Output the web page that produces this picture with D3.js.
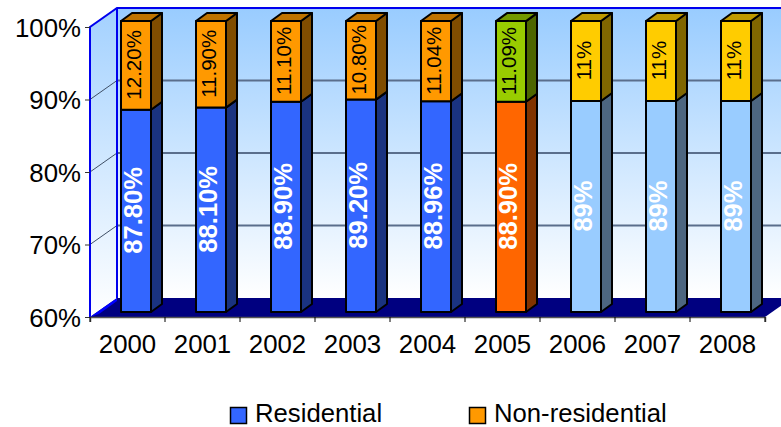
<!DOCTYPE html>
<html>
<head>
<meta charset="utf-8">
<script src="https://cdn.jsdelivr.net/npm/d3@7"></script>
<style>
html,body{margin:0;padding:0;background:#fff;}
svg{display:block;font-family:"Liberation Sans",Arial,sans-serif;}
</style>
</head>
<body>
<svg id="chart" width="781" height="427"></svg>
<script>
// Share of housing output by year, stacked to 100%
const years = ["2000","2001","2002","2003","2004","2005","2006","2007","2008"];
const residential = [87.8,88.1,88.9,89.2,88.96,88.9,89,89,89];
const nonResidential = [12.2,11.9,11.1,10.8,11.04,11.09,11,11,11];
const residentialLabels = ["87.80%","88.10%","88.90%","89.20%","88.96%","88.90%","89%","89%","89%"];
const nonResidentialLabels = ["12.20%","11.90%","11.10%","10.80%","11.04%","11.09%","11%","11%","11%"];
const yTicks = [60,70,80,90,100];
const residentialColors = ["#3366ff","#3366ff","#3366ff","#3366ff","#3366ff","#ff6600","#99ccff","#99ccff","#99ccff"];
const nonResidentialColors = ["#ff9900","#ff9900","#ff9900","#ff9900","#ff9900","#99cc00","#ffcc00","#ffcc00","#ffcc00"];
const legendNames = ["Residential","Non-residential"];
const legendColors = ["#3366ff","#ff9900"];

const svg = d3.select("#chart");

// Oblique projection: the plot box has a front plane and a back wall
const x = d3.scaleBand().domain(years).range([90,765]);
const y = d3.scaleLinear().domain([60,100]).range([317,27]);
const barY = d3.scaleLinear().domain([60,100]).range([312,21]);
const wallDx = 27, wallDy = -19;
const barInsetX = 8.5;
const barWidth = 30, barDepthX = 11, barDepthY = -8;
const plotRight = 781;

const defs = svg.append("defs");
const wallGrad = defs.append("linearGradient").attr("id","wall").attr("x1",0).attr("y1",0).attr("x2",0).attr("y2",1);
wallGrad.append("stop").attr("offset",0).attr("stop-color","#99ccff");
wallGrad.append("stop").attr("offset",1).attr("stop-color","#ffffff");
const sideGrad = defs.append("linearGradient").attr("id","side").attr("x1",0).attr("y1",0).attr("x2",0).attr("y2",1);
sideGrad.append("stop").attr("offset",0).attr("stop-color","#a3d1ff");
sideGrad.append("stop").attr("offset",1).attr("stop-color","#ffffff");

const x0 = x.range()[0], x1 = x.range()[1];
const yTop = y(100), yBase = y(60);
const poly = pts => pts.map(p => p.join(",")).join(" ");

// Side wall, back wall, floor
svg.append("polygon").attr("fill","url(#side)")
  .attr("points",poly([[x0,yTop],[x0+wallDx,yTop+wallDy],[x0+wallDx,yBase+wallDy],[x0,yBase]]));
svg.append("rect").attr("fill","url(#wall)")
  .attr("x",x0+wallDx).attr("y",yTop+wallDy).attr("width",plotRight-x0-wallDx).attr("height",yBase-yTop);
svg.append("polygon").attr("fill","#000080")
  .attr("points",poly([[x0,yBase],[x0+wallDx,yBase+wallDy],[x1+wallDx,yBase+wallDy],[x1,yBase]]));
svg.append("polygon").attr("fill","#0000ff")
  .attr("points",poly([[x0,yBase],[x0+wallDx,yBase+wallDy],[x0+wallDx,yBase+wallDy+3],[x0+9,yBase-3]]));

// Gridlines run along the side wall and across the back wall
yTicks.filter(t => t>60 && t<100).forEach(t => {
  svg.append("line").attr("x1",x0).attr("y1",y(t)).attr("x2",x0+wallDx).attr("y2",y(t)+wallDy)
    .attr("stroke","#3f4f66").attr("stroke-width",1);
  svg.append("line").attr("x1",x0+wallDx).attr("y1",y(t)+wallDy).attr("x2",plotRight).attr("y2",y(t)+wallDy)
    .attr("stroke","#5a6e8c").attr("stroke-width",2);
});

// Blue outline of the wall box
svg.append("path").attr("fill","none").attr("stroke","#0000ee").attr("stroke-width",2)
  .attr("d",`M${x0},${yBase}L${x0},${yTop}L${x0+wallDx},${yTop+wallDy}L${plotRight},${yTop+wallDy}M${x0+wallDx},${yTop+wallDy}L${x0+wallDx},${yBase+wallDy}`);

// Axes
const yAxis = d3.axisLeft(y).tickValues(yTicks).tickSize(5).tickPadding(4).tickFormat(d => d+"%");
const xAxis = d3.axisBottom(x).tickSize(5).tickPadding(13);
const yG = svg.append("g").attr("transform",`translate(${x0},1)`).call(yAxis);
const xG = svg.append("g").attr("transform",`translate(0,${yBase})`).call(xAxis);
xG.selectAll(".tick line").remove();
x.domain().concat(["end"]).forEach((d,i) => {
  const px = x0 + i*x.step();
  xG.append("line").attr("x1",px).attr("x2",px).attr("y1",0).attr("y2",5).attr("stroke","#000");
});
yG.selectAll(".tick line").attr("transform","translate(0,-1)").attr("stroke","#333");
[yG,xG].forEach(g => {
  g.selectAll("text").attr("font-size",25.8).attr("font-family","\"Liberation Sans\",Arial,sans-serif").attr("fill","#000");
  g.select(".domain").attr("stroke","#555").attr("stroke-width",1.5);
});
yG.select(".domain").attr("stroke","none");

// Darkens a face colour for the shaded sides of a bar
const shade = (c,k) => { const r = d3.rgb(c); return d3.rgb(r.r*k,r.g*k,r.b*k).formatHex(); };

// A stacked box with a lit front, dark side and mid-tone top
function drawBox(g, left, top, bottom, color, withTop){
  const right = left+barWidth;
  g.append("polygon").attr("fill",shade(color,0.5))
    .attr("points",poly([[right,top],[right+barDepthX,top+barDepthY],[right+barDepthX,bottom+barDepthY],[right,bottom]]));
  if(withTop) g.append("polygon").attr("fill",shade(color,0.75))
    .attr("points",poly([[left,top],[left+barDepthX,top+barDepthY],[right+barDepthX,top+barDepthY],[right,top]]));
  g.append("rect").attr("x",left).attr("y",top).attr("width",barWidth).attr("height",bottom-top).attr("fill",color);
}

const bars = svg.append("g").attr("stroke","#000").attr("stroke-width",2).attr("stroke-linejoin","round");
years.forEach((yr,i) => {
  const left = x(yr)+(x.bandwidth()-barWidth)/2+barInsetX;
  const g = bars.append("g");
  const bBottom = barY(60);
  const bMid = barY(residential[i]);
  const bTop = barY(residential[i]+nonResidential[i]);
  drawBox(g,left,bMid,bBottom,residentialColors[i],false);
  drawBox(g,left,bTop,bMid,nonResidentialColors[i],true);
  const cx = left+barWidth/2;
  svg.append("text").attr("transform",`translate(${cx-3.5},${(bMid+bBottom)/2-0.5}) rotate(-90)`)
    .attr("text-anchor","middle").attr("dy","0.36em").attr("font-size",25.6).attr("font-weight","bold")
    .attr("fill","#fff").text(residentialLabels[i]);
  svg.append("text").attr("transform",`translate(${cx-2.5},${(bTop+bMid)/2-0.5}) rotate(-90)`)
    .attr("text-anchor","middle").attr("dy","0.36em").attr("font-size",20.5)
    .attr("fill","#000").text(nonResidentialLabels[i]);
});

// Legend
const legendX = d3.scaleOrdinal().domain(legendNames).range([230,469]);
legendNames.forEach((n,i) => {
  const lx = legendX(n);
  svg.append("rect").attr("x",lx+.5).attr("y",407.5).attr("width",16).attr("height",16)
    .attr("fill",legendColors[i]).attr("stroke","#000").attr("stroke-width",1.5);
  svg.append("text").attr("x",lx+25).attr("y",421.5).attr("font-size",25.7).attr("fill","#000").text(n);
});
</script>
</body>
</html>
